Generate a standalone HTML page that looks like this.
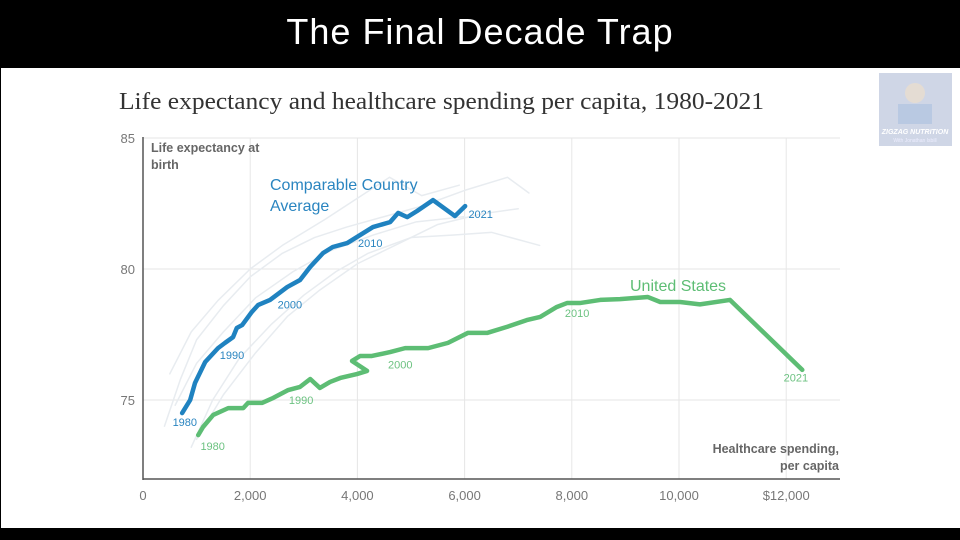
<!DOCTYPE html>
<html><head><meta charset="utf-8">
<style>
html,body{margin:0;padding:0;background:#000;width:960px;height:540px;overflow:hidden;font-family:"Liberation Sans",sans-serif}
#panel{position:absolute;left:1px;top:68px;width:959px;height:460px;background:#fff}
#top-title{position:absolute;left:0;top:11px;width:960px;text-align:center;color:#fff;font-size:36px;letter-spacing:1px}
svg{position:absolute;left:0;top:0}
</style></head>
<body>
<div id="top-title">The Final Decade Trap</div>
<div id="panel"></div>
<svg id="chart" width="960" height="540"></svg>
<script>
const xTicks=[0,2000,4000,6000,8000,10000,12000];
const xTickLabels=["0","2,000","4,000","6,000","8,000","10,000","$12,000"];
const yTicks=[75,80,85];
const usX=[1.03,1.12,1.31,1.59,1.87,1.96,2.22,2.43,2.71,2.93,3.12,3.3,3.49,3.68,3.99,4.18,3.9,4.05,4.27,4.61,4.89,5.32,5.69,6.06,6.42,6.79,7.16,7.41,7.72,7.91,8.15,8.53,8.9,9.42,9.65,10.02,10.39,10.95,12.3];
const usY=[73.66,73.97,74.43,74.69,74.69,74.89,74.89,75.08,75.38,75.5,75.8,75.46,75.69,75.84,75.99,76.11,76.49,76.68,76.68,76.83,76.98,76.98,77.18,77.56,77.56,77.79,78.05,78.17,78.55,78.7,78.7,78.82,78.85,78.93,78.74,78.74,78.65,78.82,76.15];
const ccX=[0.73,0.88,0.97,1.16,1.4,1.53,1.68,1.75,1.85,2.03,2.15,2.37,2.69,2.93,3.12,3.36,3.54,3.81,4.29,4.61,4.76,4.93,5.11,5.41,5.82,6.01];
const ccY=[74.5,75.0,75.65,76.45,76.98,77.18,77.4,77.75,77.86,78.36,78.63,78.82,79.31,79.58,80.08,80.61,80.84,80.99,81.6,81.79,82.14,81.98,82.21,82.63,82.02,82.4];
const bgX1=[0.4,0.7,1.0,1.5,2.0,2.6,3.2,3.8,4.5,5.2,6.0,6.8,7.2];
const bgY1=[74.0,75.8,77.3,78.6,79.7,80.6,81.2,81.6,82.0,82.4,83.0,83.5,82.9];
const bgX2=[0.9,1.3,1.8,2.4,3.0,3.6,4.2,5.0,5.8,6.5,7.4];
const bgY2=[73.2,75.0,76.6,77.9,79.0,79.9,80.6,81.2,81.3,81.4,80.9];
const bgX3=[0.5,0.9,1.4,2.0,2.6,3.4,4.0,4.6,5.2,5.9];
const bgY3=[76.0,77.6,78.8,80.0,80.9,81.9,82.7,83.5,82.8,83.2];
const bgX4=[1.0,1.5,2.1,2.7,3.3,4.0,4.8,5.5,6.3,7.0];
const bgY4=[73.5,75.2,76.8,78.2,79.2,80.2,81.0,81.7,82.1,82.3];
const bgX5=[0.6,1.0,1.5,2.1,2.8,3.5,4.3,5.1,6.0];
const bgY5=[74.8,76.4,77.6,78.9,79.9,80.7,81.3,81.8,82.0];
const usYears=["1980","1990","2000","2010","2021"];
const usYearX=[1.3,2.95,4.8,8.1,12.18];
const usYearY=[73.1,74.85,76.2,78.17,75.7];
const ccYears=["1980","1990","2000","2010","2021"];
const ccYearX=[0.78,1.66,2.74,4.24,6.3];
const ccYearY=[74.0,76.56,78.5,80.84,81.95];

const Xk=v=>143+v*53.6, X=v=>Xk(v/1000), Y=v=>138+(85-v)*26.2;
const svg=document.getElementById('chart'), NS='http://www.w3.org/2000/svg';
function mk(tag,attrs,parent){const e=document.createElementNS(NS,tag);for(const k in attrs)e.setAttribute(k,attrs[k]);(parent||svg).appendChild(e);return e;}
function txt(s,attrs){const e=mk('text',attrs);e.textContent=s;return e;}
let t=txt("Life expectancy and healthcare spending per capita, 1980-2021",{x:119,y:109,'font-family':'Liberation Serif, serif','font-size':24,fill:'#333',textLength:645,lengthAdjust:'spacingAndGlyphs'});


xTicks.forEach((v,i)=>{
  if(i>0){const g=mk('line',{x1:X(v),x2:X(v),y1:138,y2:479,stroke:'#e6e6e6','stroke-width':1});
  
  }
  const l=txt(xTickLabels[i],{x:X(v),y:500,'text-anchor':'middle','font-size':13,fill:'#777'});
  
  
});
yTicks.forEach(v=>{
  const g=mk('line',{x1:143,x2:840,y1:Y(v),y2:Y(v),stroke:'#e6e6e6','stroke-width':1});
  
  
  const l=txt(String(v),{x:135,y:Y(v)+5,'text-anchor':'end','font-size':13,fill:'#777'});
  
  
});
const ax=mk('line',{x1:143,x2:143,y1:137,y2:480,stroke:'#555','stroke-width':1.5});


const axx=mk('line',{x1:143,x2:840,y1:479,y2:479,stroke:'#555','stroke-width':1.5});


function line(xs,ys,color,w,name){
  const p=mk('polyline',{points:xs.map((x,i)=>Xk(x)+','+Y(ys[i])).join(' '),fill:'none',stroke:color,'stroke-width':w,'stroke-linejoin':'round','stroke-linecap':'round'});
  
  
}
line(bgX1,bgY1,'#e8ecf0',1.5,'other-country-line');
line(bgX2,bgY2,'#e8ecf0',1.5,'other-country-line');
line(bgX3,bgY3,'#e8ecf0',1.5,'other-country-line');
line(bgX4,bgY4,'#e8ecf0',1.5,'other-country-line');
line(bgX5,bgY5,'#e8ecf0',1.5,'other-country-line');
line(ccX,ccY,'#1f82c0',4.5,'comparable-country-line');
line(usX,usY,'#5dbd74',4.5,'united-states-line');
usYears.forEach((s,i)=>{const e=txt(s,{x:Xk(usYearX[i]),y:Y(usYearY[i]),'text-anchor':'middle','font-size':11,fill:'#6cc281'});
  
  });
ccYears.forEach((s,i)=>{const e=txt(s,{x:Xk(ccYearX[i]),y:Y(ccYearY[i]),'text-anchor':'middle','font-size':11,fill:'#2a85c0'});
  
  });
const labs=[["Life expectancy at",151,152,'start','#666',12.5,'bold','y-axis-title'],["birth",151,169,'start','#666',12.5,'bold','y-axis-title'],
["Comparable Country",270,190,'start','#2a85c0',16,'normal','series-label-comparable'],["Average",270,211,'start','#2a85c0',16,'normal','series-label-comparable'],
["United States",630,291,'start','#5dbd74',16,'normal','series-label-us'],
["Healthcare spending,",839,453,'end','#666',12.5,'bold','x-axis-title'],["per capita",839,470,'end','#666',12.5,'bold','x-axis-title']];
labs.forEach(a=>{const e=txt(a[0],{x:a[1],y:a[2],'text-anchor':a[3],fill:a[4],'font-size':a[5],'font-weight':a[6]});
  
  });
const lg=mk('rect',{x:879,y:73,width:73,height:73,fill:'#cfd6e6'});


mk('circle',{cx:915,cy:93,r:10,fill:'#e4dcd3'});
mk('rect',{x:898,y:104,width:34,height:20,fill:'#b9c9e2'});
const l1=txt("ZIGZAG NUTRITION",{x:915,y:134,'text-anchor':'middle','font-size':7,'font-weight':'bold','font-style':'italic',fill:'#fff'});


const l2=txt("With Jonathan Isbill",{x:915,y:142,'text-anchor':'middle','font-size':5,fill:'#eef'});


</script>
</body></html>
